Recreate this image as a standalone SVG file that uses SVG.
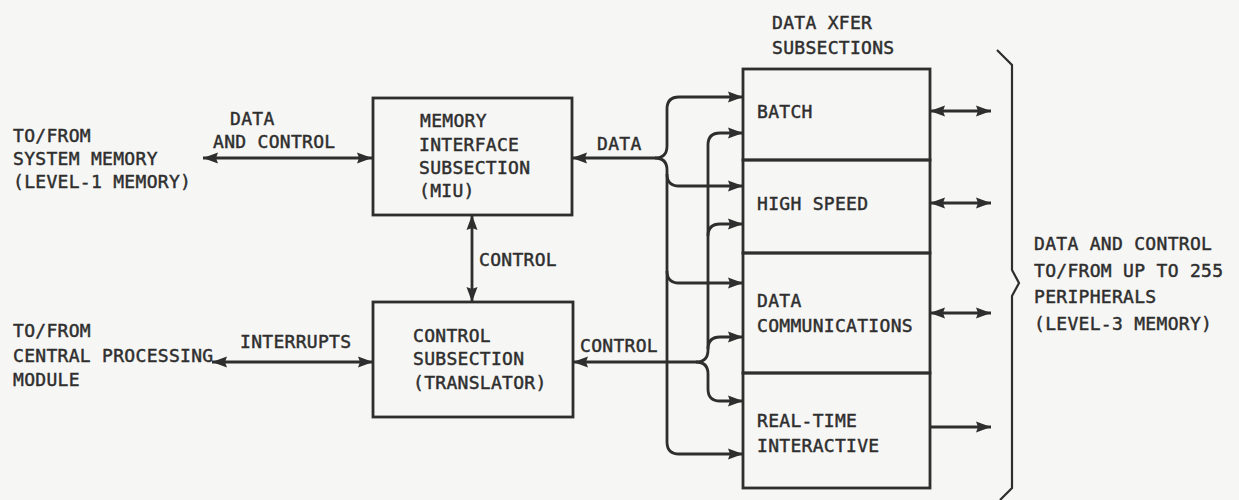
<svg xmlns="http://www.w3.org/2000/svg" width="1239" height="500" viewBox="0 0 1239 500">
<style>
.t{font-family:"DejaVu Sans Mono","Liberation Mono",monospace;font-size:18px;letter-spacing:0.3px;fill:#2e2e2e;stroke:#2e2e2e;stroke-width:0.45}
.box{fill:none;stroke:#2e2e2e;stroke-width:2.8}
.ln{fill:none;stroke:#2e2e2e;stroke-width:2.8}
.br{fill:none;stroke:#2e2e2e;stroke-width:2.2}
</style>
<defs>
<marker id="ah" viewBox="0 0 15 12" refX="15" refY="6" markerWidth="15" markerHeight="12" markerUnits="userSpaceOnUse" orient="auto-start-reverse">
<path d="M0,0.5 L15,6 L0,11.5 L2,6 z" fill="#2e2e2e"/>
</marker>
</defs>
<rect x="0" y="0" width="1239" height="500" fill="#f6f6f4"/>

<g id="sysmem">
<text class="t" x="13" y="142">TO/FROM</text>
<text class="t" x="13" y="165">SYSTEM MEMORY</text>
<text class="t" x="13" y="188">(LEVEL-1 MEMORY)</text>
</g>
<g id="cpm">
<text class="t" x="13" y="337">TO/FROM</text>
<text class="t" x="13" y="362">CENTRAL PROCESSING</text>
<text class="t" x="13" y="386">MODULE</text>
</g>
<g id="miu">
<rect class="box" x="373" y="98" width="199" height="117"/>
<text class="t" x="420" y="127">MEMORY</text>
<text class="t" x="419" y="151">INTERFACE</text>
<text class="t" x="419" y="174">SUBSECTION</text>
<text class="t" x="419" y="197">(MIU)</text>
</g>
<g id="translator">
<rect class="box" x="373" y="302" width="200" height="115"/>
<text class="t" x="413" y="342">CONTROL</text>
<text class="t" x="413" y="365">SUBSECTION</text>
<text class="t" x="413" y="389">(TRANSLATOR)</text>
</g>
<g id="xfer-title">
<text class="t" x="772" y="29">DATA XFER</text>
<text class="t" x="772" y="54">SUBSECTIONS</text>
</g>
<g id="batch">
<rect class="box" x="743" y="69" width="187" height="91"/>
<text class="t" x="757" y="118">BATCH</text>
</g>
<g id="highspeed">
<rect class="box" x="743" y="160" width="187" height="93"/>
<text class="t" x="757" y="210">HIGH SPEED</text>
</g>
<g id="datacomm">
<rect class="box" x="743" y="253" width="187" height="120"/>
<text class="t" x="757" y="307">DATA</text>
<text class="t" x="757" y="332">COMMUNICATIONS</text>
</g>
<g id="realtime">
<rect class="box" x="743" y="373" width="187" height="115"/>
<text class="t" x="757" y="427">REAL-TIME</text>
<text class="t" x="757" y="452">INTERACTIVE</text>
</g>
<g id="peripherals">
<path class="br" d="M997,50 L1012,65 V270 L1019,283 L1012,296 V488 L1000,500"/>
<text class="t" x="1034" y="250">DATA AND CONTROL</text>
<text class="t" x="1034" y="277">TO/FROM UP TO 255</text>
<text class="t" x="1034" y="303">PERIPHERALS</text>
<text class="t" x="1034" y="330">(LEVEL-3 MEMORY)</text>
</g>

<g id="connectors">
<path class="ln" d="M203,158 H372" marker-start="url(#ah)" marker-end="url(#ah)"/>
<text class="t" x="230" y="125">DATA</text>
<text class="t" x="213" y="148">AND CONTROL</text>

<path class="ln" d="M472,215 V302" marker-start="url(#ah)" marker-end="url(#ah)"/>
<text class="t" x="479" y="266">CONTROL</text>

<path class="ln" d="M212,362 H373" marker-start="url(#ah)" marker-end="url(#ah)"/>
<text class="t" x="240" y="348">INTERRUPTS</text>

<path class="ln" d="M572,158 H655" marker-start="url(#ah)"/>
<text class="t" x="597" y="150">DATA</text>
<path class="ln" d="M655,158 Q667,158 667,146 V109 Q667,97 679,97 H743" marker-end="url(#ah)"/>
<path class="ln" d="M655,158 Q667,158 667,170 V442 Q667,454 679,454 H743" marker-end="url(#ah)"/>
<path class="ln" d="M667,174 Q667,186 679,186 H743" marker-end="url(#ah)"/>
<path class="ln" d="M667,271 Q667,283 679,283 H743" marker-end="url(#ah)"/>

<path class="ln" d="M573,362 H696" marker-start="url(#ah)"/>
<text class="t" x="580" y="352">CONTROL</text>
<path class="ln" d="M696,362 Q708,362 708,350 V145 Q708,133 720,133 H743" marker-end="url(#ah)"/>
<path class="ln" d="M696,362 Q708,362 708,374 V389 Q708,401 720,401 H743" marker-end="url(#ah)"/>
<path class="ln" d="M708,236 Q708,224 720,224 H743" marker-end="url(#ah)"/>
<path class="ln" d="M708,349 Q708,337 720,337 H743" marker-end="url(#ah)"/>

<path class="ln" d="M930,111 H991" marker-start="url(#ah)" marker-end="url(#ah)"/>
<path class="ln" d="M930,203 H991" marker-start="url(#ah)" marker-end="url(#ah)"/>
<path class="ln" d="M930,313 H991" marker-start="url(#ah)" marker-end="url(#ah)"/>
<path class="ln" d="M930,427 H991" marker-end="url(#ah)"/>
</g>
</svg>
